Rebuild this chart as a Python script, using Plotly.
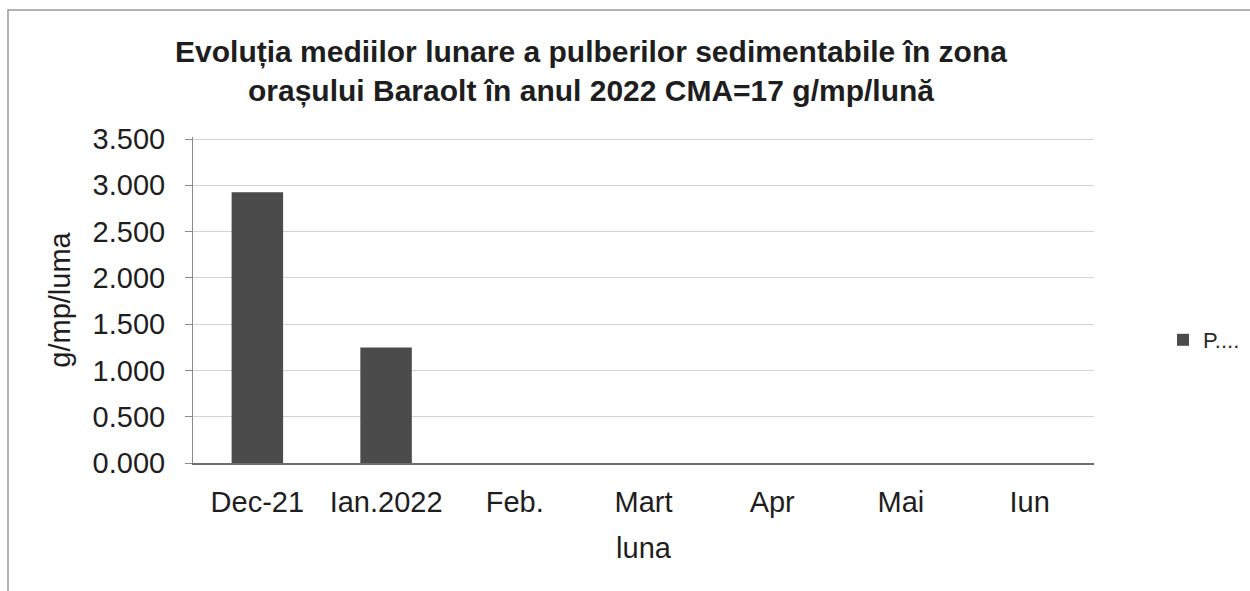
import plotly.graph_objects as go

categories = ["Dec-21", "Ian.2022", "Feb.", "Mart", "Apr", "Mai", "Iun"]
values = [2.925, 1.248, None, None, None, None, None]
series_name = "P...."
y_ticks = [0, 0.5, 1.0, 1.5, 2.0, 2.5, 3.0, 3.5]
y_tick_text = ["0.000", "0.500", "1.000", "1.500", "2.000", "2.500", "3.000", "3.500"]
title_text = ("Evoluția mediilor lunare a pulberilor sedimentabile în zona<br>"
              "orașului Baraolt în anul 2022 CMA=17 g/mp/lună")

FONT = "Liberation Sans, Arial, sans-serif"

fig = go.Figure()
fig.add_trace(go.Bar(
    x=categories, y=values, name=series_name,
    marker=dict(color="#4b4b4b", line=dict(width=0)),
    showlegend=True,
))

L, R, T, B = 193, 156, 137, 128
W, H = 1250, 591
pw, ph = W - L - R, H - T - B

fig.update_layout(
    width=W, height=H,
    margin=dict(l=L, r=R, t=T, b=B, autoexpand=False),
    paper_bgcolor="white", plot_bgcolor="white",
    bargap=0.6,
    font=dict(family=FONT, color="#1e1e1e", size=29),
    title=dict(
        text=title_text, x=591 / W, xanchor="center",
        y=1 - 62 / H, yanchor="top",
        font=dict(family=FONT, size=30, color="#1e1e1e", weight="bold"),
    ),
    showlegend=True,
    legend=dict(
        xref="container", yref="container",
        x=1163 / W, xanchor="left",
        y=1 - 340 / H, yanchor="middle",
        font=dict(size=22, color="#2a2a2a"),
        bgcolor="rgba(0,0,0,0)",
        itemwidth=30,
    ),
    xaxis=dict(
        type="category",
        showgrid=False,
        showline=True, linecolor="#6e6e6e", linewidth=1.5,
        ticks="", tickfont=dict(size=29, color="#1e1e1e"),
        ticklabelstandoff=12,
        title=dict(text="luna", font=dict(size=29, color="#1e1e1e"), standoff=21),
    ),
    yaxis=dict(
        range=[0, 3.522],
        tickvals=y_ticks, ticktext=y_tick_text,
        showgrid=True, gridcolor="#d2d2d2", gridwidth=1,
        showline=True, linecolor="#8a8a8a", linewidth=1,
        ticks="outside", ticklen=7, tickcolor="#8a8a8a",
        tickfont=dict(size=29, color="#1e1e1e"),
        ticklabelstandoff=14,
        title=dict(text="g/mp/luma", font=dict(size=29, color="#1e1e1e"), standoff=13),
        zeroline=False,
    ),
)

# outer frame of the scanned chart area
fig.add_shape(
    type="rect", xref="paper", yref="paper",
    x0=(8 - L) / pw, x1=(1300 - L) / pw,
    y0=(H - B - 640) / ph, y1=(H - B - 10) / ph,
    line=dict(color="#9a9a9a", width=1.5), fillcolor="rgba(0,0,0,0)",
    layer="below",
)

fig.write_html(
    "out.html",
    config={"displayModeBar": False},
    post_script="document.body.style.margin='0';document.body.style.overflow='hidden';",
)
